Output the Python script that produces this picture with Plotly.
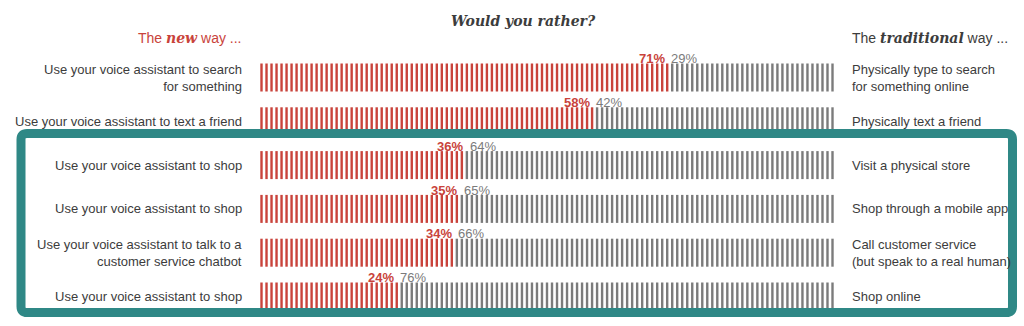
import numpy as np
import plotly.graph_objects as go

# Survey rows: "new way" option, share preferring it, "traditional way" option
new_way = [
    "Use your voice assistant to search<br>for something",
    "Use your voice assistant to text a friend",
    "Use your voice assistant to shop",
    "Use your voice assistant to shop",
    "Use your voice assistant to talk to a<br>customer service chatbot",
    "Use your voice assistant to shop",
]
new_pct = [71, 58, 36, 35, 34, 24]
traditional_way = [
    "Physically type to search<br>for something online",
    "Physically text a friend",
    "Visit a physical store",
    "Shop through a mobile app",
    "Call customer service<br>(but speak to a real human)",
    "Shop online",
]
trad_pct = [100 - p for p in new_pct]

RED = "#c9433b"
GRAY = "#7b7b7b"
TEXT = "#3c3c3c"
TEAL = "#2f8886"

W, H = 1024, 326
N_STRIPES = 115
stripe_pos = (np.arange(N_STRIPES) + 0.5) * 100.0 / N_STRIPES

# pixel geometry of the striped bars
X0_PX, PX_PER_UNIT = 259.0, 5.76
Y0_PX, ROW_PX = 77.5, 43.8
x_range = [-X0_PX / PX_PER_UNIT, (W - X0_PX) / PX_PER_UNIT]
y_range = [(H - Y0_PX) / ROW_PX, -Y0_PX / ROW_PX]

red_x, red_y, gray_x, gray_y = [], [], [], []
for i, p in enumerate(new_pct):
    for s in stripe_pos:
        if s < p:
            red_x.append(s); red_y.append(i)
        else:
            gray_x.append(s); gray_y.append(i)

fig = go.Figure()
for xs, ys, col in [(red_x, red_y, RED), (gray_x, gray_y, GRAY)]:
    fig.add_trace(go.Scatter(
        x=xs, y=ys, mode="markers", hoverinfo="skip",
        marker=dict(symbol="line-ns", size=20,
                    line=dict(width=2.4, color=col)),
    ))

ann = []
FONT = "Liberation Sans, Arial, sans-serif"
SERIF = "DejaVu Serif, Georgia, serif"
LEFT_X, RIGHT_X = -2.6, 102.6
for i in range(len(new_pct)):
    ann.append(dict(x=LEFT_X, y=i, text=new_way[i], xanchor="right", yanchor="middle",
                    align="right", showarrow=False,
                    font=dict(family=FONT, size=13, color=TEXT)))
    ann.append(dict(x=RIGHT_X, y=i, text=traditional_way[i], xanchor="left", yanchor="middle",
                    align="left", showarrow=False,
                    font=dict(family=FONT, size=13, color=TEXT)))
    ann.append(dict(x=new_pct[i] - 0.2, y=i - 0.43, text=f"<b>{new_pct[i]}%</b>",
                    xanchor="right", yanchor="middle", showarrow=False,
                    font=dict(family=FONT, size=13, color=RED)))
    ann.append(dict(x=new_pct[i] + 0.2, y=i - 0.43, text=f"{trad_pct[i]}%",
                    xanchor="left", yanchor="middle", showarrow=False,
                    font=dict(family=FONT, size=13, color=GRAY)))

# headers
serif_word = "<span style='font-family:" + SERIF + "'><b><i>{}</i></b></span>"
ann.append(dict(x=LEFT_X, y=-0.91, text="The " + serif_word.format("new") + " way ...",
                xanchor="right", yanchor="middle", showarrow=False,
                font=dict(family=FONT, size=14, color=RED)))
ann.append(dict(x=RIGHT_X, y=-0.91, text="The " + serif_word.format("traditional") + " way ...",
                xanchor="left", yanchor="middle", showarrow=False,
                font=dict(family=FONT, size=14, color=TEXT)))
ann.append(dict(x=46.0, y=-1.29, text="<b><i>Would you rather?</i></b>", xanchor="center",
                yanchor="middle", showarrow=False,
                font=dict(family=SERIF, size=14, color=TEXT)))

# rounded teal frame around the shopping rows
def rounded_rect(x0, y0, x1, y1, r):
    px = lambda v: v / W
    py = lambda v: 1 - v / H
    return (f"M {px(x0 + r)},{py(y0)} L {px(x1 - r)},{py(y0)} "
            f"Q {px(x1)},{py(y0)} {px(x1)},{py(y0 + r)} "
            f"L {px(x1)},{py(y1 - r)} Q {px(x1)},{py(y1)} {px(x1 - r)},{py(y1)} "
            f"L {px(x0 + r)},{py(y1)} Q {px(x0)},{py(y1)} {px(x0)},{py(y1 - r)} "
            f"L {px(x0)},{py(y0 + r)} Q {px(x0)},{py(y0)} {px(x0 + r)},{py(y0)} Z")

fig.add_shape(type="path", xref="paper", yref="paper",
              path=rounded_rect(21, 133.5, 1012.5, 312.5, 6),
              line=dict(color=TEAL, width=9), layer="above")

fig.update_layout(
    width=W, height=H, margin=dict(l=0, r=0, t=0, b=0),
    paper_bgcolor="white", plot_bgcolor="white", showlegend=False,
    xaxis=dict(range=x_range, visible=False, fixedrange=True),
    yaxis=dict(range=y_range, visible=False, fixedrange=True),
    annotations=ann,
)

fig.write_html("out.html")
